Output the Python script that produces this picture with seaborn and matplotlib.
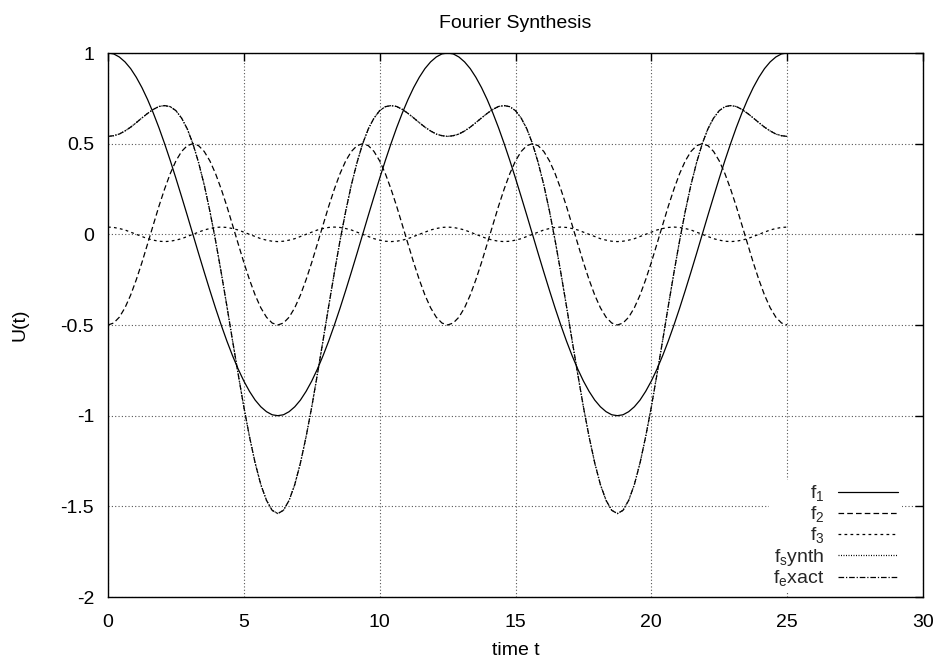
import numpy as np
import pandas as pd
import matplotlib
matplotlib.use("Agg")
import matplotlib.pyplot as plt
import seaborn as sns

# ---------------- data ----------------
t = np.linspace(0, 25, 121)  # sampling grid in time

f1 = [1.000, 0.995, 0.978, 0.951, 0.914, 0.866, 0.809, 0.743, 0.669, 0.588,
      0.500, 0.407, 0.309, 0.208, 0.105, 0.000, -0.105, -0.208, -0.309, -0.407,
      -0.500, -0.588, -0.669, -0.743, -0.809, -0.866, -0.914, -0.951, -0.978, -0.995,
      -1.000, -0.995, -0.978, -0.951, -0.914, -0.866, -0.809, -0.743, -0.669, -0.588,
      -0.500, -0.407, -0.309, -0.208, -0.105, 0.000, 0.105, 0.208, 0.309, 0.407,
      0.500, 0.588, 0.669, 0.743, 0.809, 0.866, 0.914, 0.951, 0.978, 0.995,
      1.000, 0.995, 0.978, 0.951, 0.914, 0.866, 0.809, 0.743, 0.669, 0.588,
      0.500, 0.407, 0.309, 0.208, 0.105, 0.000, -0.105, -0.208, -0.309, -0.407,
      -0.500, -0.588, -0.669, -0.743, -0.809, -0.866, -0.914, -0.951, -0.978, -0.995,
      -1.000, -0.995, -0.978, -0.951, -0.914, -0.866, -0.809, -0.743, -0.669, -0.588,
      -0.500, -0.407, -0.309, -0.208, -0.105, 0.000, 0.105, 0.208, 0.309, 0.407,
      0.500, 0.588, 0.669, 0.743, 0.809, 0.866, 0.914, 0.951, 0.978, 0.995,
      1.000]

f2 = [-0.500, -0.489, -0.457, -0.405, -0.335, -0.250, -0.155, -0.052, 0.052, 0.155,
      0.250, 0.335, 0.405, 0.457, 0.489, 0.500, 0.489, 0.457, 0.405, 0.335,
      0.250, 0.155, 0.052, -0.052, -0.155, -0.250, -0.335, -0.405, -0.457, -0.489,
      -0.500, -0.489, -0.457, -0.405, -0.335, -0.250, -0.155, -0.052, 0.052, 0.155,
      0.250, 0.335, 0.405, 0.457, 0.489, 0.500, 0.489, 0.457, 0.405, 0.335,
      0.250, 0.155, 0.052, -0.052, -0.155, -0.250, -0.335, -0.405, -0.457, -0.489,
      -0.500, -0.489, -0.457, -0.405, -0.335, -0.250, -0.155, -0.052, 0.052, 0.155,
      0.250, 0.335, 0.405, 0.457, 0.489, 0.500, 0.489, 0.457, 0.405, 0.335,
      0.250, 0.155, 0.052, -0.052, -0.155, -0.250, -0.335, -0.405, -0.457, -0.489,
      -0.500, -0.489, -0.457, -0.405, -0.335, -0.250, -0.155, -0.052, 0.052, 0.155,
      0.250, 0.335, 0.405, 0.457, 0.489, 0.500, 0.489, 0.457, 0.405, 0.335,
      0.250, 0.155, 0.052, -0.052, -0.155, -0.250, -0.335, -0.405, -0.457, -0.489,
      -0.500]

f3 = [0.040, 0.038, 0.032, 0.024, 0.012, 0.000, -0.012, -0.024, -0.032, -0.038,
      -0.040, -0.038, -0.032, -0.024, -0.012, 0.000, 0.012, 0.024, 0.032, 0.038,
      0.040, 0.038, 0.032, 0.024, 0.012, 0.000, -0.012, -0.024, -0.032, -0.038,
      -0.040, -0.038, -0.032, -0.024, -0.012, 0.000, 0.012, 0.024, 0.032, 0.038,
      0.040, 0.038, 0.032, 0.024, 0.012, 0.000, -0.012, -0.024, -0.032, -0.038,
      -0.040, -0.038, -0.032, -0.024, -0.012, 0.000, 0.012, 0.024, 0.032, 0.038,
      0.040, 0.038, 0.032, 0.024, 0.012, 0.000, -0.012, -0.024, -0.032, -0.038,
      -0.040, -0.038, -0.032, -0.024, -0.012, 0.000, 0.012, 0.024, 0.032, 0.038,
      0.040, 0.038, 0.032, 0.024, 0.012, 0.000, -0.012, -0.024, -0.032, -0.038,
      -0.040, -0.038, -0.032, -0.024, -0.012, 0.000, 0.012, 0.024, 0.032, 0.038,
      0.040, 0.038, 0.032, 0.024, 0.012, 0.000, -0.012, -0.024, -0.032, -0.038,
      -0.040, -0.038, -0.032, -0.024, -0.012, 0.000, 0.012, 0.024, 0.032, 0.038,
      0.040]

f_synth = [0.540, 0.544, 0.553, 0.570, 0.591, 0.616, 0.642, 0.667, 0.689, 0.705,
           0.710, 0.704, 0.682, 0.641, 0.582, 0.500, 0.396, 0.273, 0.128, -0.034,
           -0.210, -0.395, -0.585, -0.771, -0.952, -1.116, -1.261, -1.380, -1.467, -1.522,
           -1.540, -1.522, -1.467, -1.380, -1.261, -1.116, -0.952, -0.771, -0.585, -0.395,
           -0.210, -0.034, 0.128, 0.273, 0.396, 0.500, 0.582, 0.641, 0.682, 0.704,
           0.710, 0.705, 0.689, 0.667, 0.642, 0.616, 0.591, 0.570, 0.553, 0.544,
           0.540, 0.544, 0.553, 0.570, 0.591, 0.616, 0.642, 0.667, 0.689, 0.705,
           0.710, 0.704, 0.682, 0.641, 0.582, 0.500, 0.396, 0.273, 0.128, -0.034,
           -0.210, -0.395, -0.585, -0.771, -0.952, -1.116, -1.261, -1.380, -1.467, -1.522,
           -1.540, -1.522, -1.467, -1.380, -1.261, -1.116, -0.952, -0.771, -0.585, -0.395,
           -0.210, -0.034, 0.128, 0.273, 0.396, 0.500, 0.582, 0.641, 0.682, 0.704,
           0.710, 0.705, 0.689, 0.667, 0.642, 0.616, 0.591, 0.570, 0.553, 0.544,
           0.540]

f_exact = [0.540, 0.544, 0.553, 0.570, 0.591, 0.616, 0.642, 0.667, 0.689, 0.705,
           0.710, 0.704, 0.682, 0.641, 0.582, 0.500, 0.396, 0.273, 0.128, -0.034,
           -0.210, -0.395, -0.585, -0.771, -0.952, -1.116, -1.261, -1.380, -1.467, -1.522,
           -1.540, -1.522, -1.467, -1.380, -1.261, -1.116, -0.952, -0.771, -0.585, -0.395,
           -0.210, -0.034, 0.128, 0.273, 0.396, 0.500, 0.582, 0.641, 0.682, 0.704,
           0.710, 0.705, 0.689, 0.667, 0.642, 0.616, 0.591, 0.570, 0.553, 0.544,
           0.540, 0.544, 0.553, 0.570, 0.591, 0.616, 0.642, 0.667, 0.689, 0.705,
           0.710, 0.704, 0.682, 0.641, 0.582, 0.500, 0.396, 0.273, 0.128, -0.034,
           -0.210, -0.395, -0.585, -0.771, -0.952, -1.116, -1.261, -1.380, -1.467, -1.522,
           -1.540, -1.522, -1.467, -1.380, -1.261, -1.116, -0.952, -0.771, -0.585, -0.395,
           -0.210, -0.034, 0.128, 0.273, 0.396, 0.500, 0.582, 0.641, 0.682, 0.704,
           0.710, 0.705, 0.689, 0.667, 0.642, 0.616, 0.591, 0.570, 0.553, 0.544,
           0.540]

x_ticks = [0, 5, 10, 15, 20, 25, 30]
x_tick_labels = ["0", "5", "10", "15", "20", "25", "30"]
y_ticks = [-2, -1.5, -1, -0.5, 0, 0.5, 1]
y_tick_labels = ["-2", "-1.5", "-1", "-0.5", "0", "0.5", "1"]

labels = [r"f$_\mathregular{1}$", r"f$_\mathregular{2}$", r"f$_\mathregular{3}$",
          r"f$_\mathregular{s}$ynth", r"f$_\mathregular{e}$xact"]

# ---------------- styling ----------------
sns.set_theme(style="white")
plt.rcParams["font.family"] = ["Liberation Sans", "DejaVu Sans"]
plt.rcParams["mathtext.fontset"] = "custom"
plt.rcParams["mathtext.rm"] = "Liberation Sans"
plt.rcParams["axes.unicode_minus"] = False

FS = 14

fig = plt.figure(figsize=(9.41, 6.65), dpi=100)
ax = fig.add_axes([108 / 941, 1 - 597 / 665, (923 - 108) / 941, (597 - 53) / 665])

styles = [
    "-",
    (0, (4.5, 2.5)),
    (0, (2.2, 2.6)),
    (0, (0.8, 1.2)),
    (0, (4.5, 1.5, 1.0, 1.5)),
]
series = [f1, f2, f3, f_synth, f_exact]

for vals, lab, ls in zip(series, labels, styles):
    sns.lineplot(x=t, y=vals, ax=ax, color="black", linewidth=0.9,
                 linestyle=ls, label=lab, sort=False, zorder=3)

ax.set_xlim(0, 30)
ax.set_ylim(-2, 1)
ax.set_xticks(x_ticks)
ax.set_xticklabels(x_tick_labels)
ax.set_yticks(y_ticks)
ax.set_yticklabels(y_tick_labels)

ax.grid(True, color="#555555", linestyle=(0, (1, 2)), linewidth=0.8, zorder=0)
ax.set_axisbelow(True)

ax.tick_params(direction="in", length=5.5, width=1, color="black",
               top=True, right=True, labelsize=FS, labelcolor="black")
ax.tick_params(axis="x", pad=12)
ax.tick_params(axis="y", pad=10)
for sp in ax.spines.values():
    sp.set_color("black")
    sp.set_linewidth(1.0)
    sp.set_zorder(5)

ax.set_title("Fourier Synthesis", fontsize=FS, pad=18, color="black")
ax.set_xlabel("time t", fontsize=FS, labelpad=8, color="black")
ax.set_ylabel("U(t)", fontsize=FS, labelpad=23, color="black")

leg = ax.legend(loc="lower right", bbox_to_anchor=(0.974, 0.008), borderaxespad=0.0,
                markerfirst=False, frameon=True, fancybox=False, framealpha=1.0,
                facecolor="white", edgecolor="none", fontsize=FS,
                handlelength=3.1, handletextpad=0.67, labelspacing=0.04,
                borderpad=0.2)
leg.set_zorder(4)

fig.savefig("out.png", dpi=100)
